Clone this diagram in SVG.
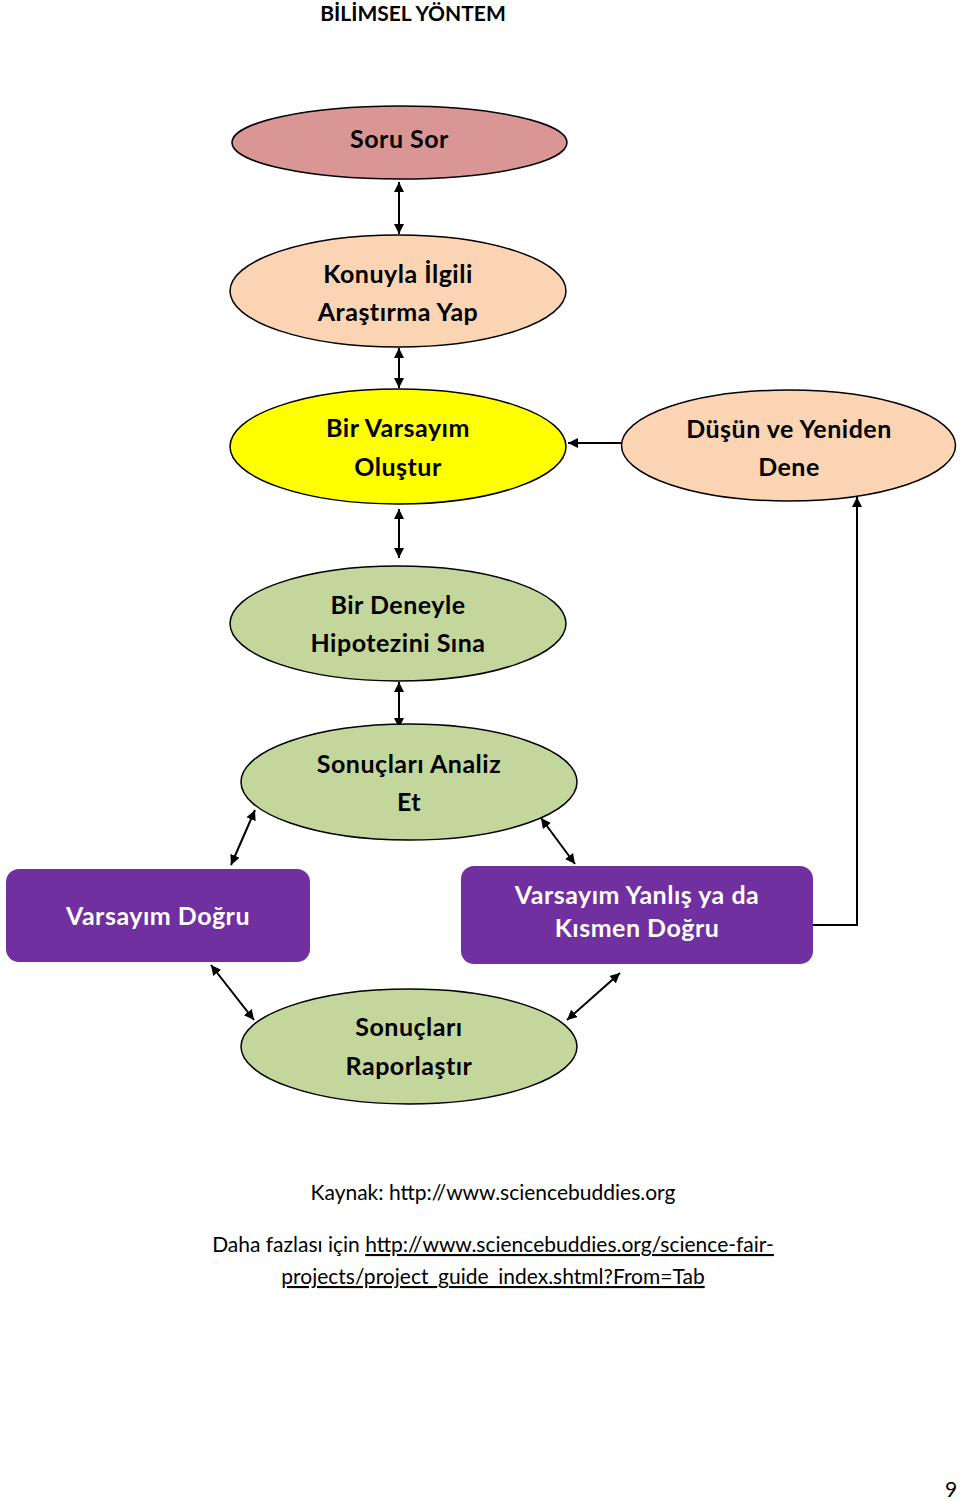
<svg xmlns="http://www.w3.org/2000/svg" width="960" height="1501" viewBox="0 0 960 1501">
<defs>
<marker id="ah" viewBox="0 0 10 10" refX="10" refY="5" markerWidth="10" markerHeight="10" markerUnits="userSpaceOnUse" orient="auto-start-reverse">
<path d="M0,0 L10,5 L0,10 z" fill="#000"/>
</marker>
<style>
.e{stroke:#000;stroke-width:1.5}
.t{font-family:Lato,"Open Sans","Liberation Sans",sans-serif;font-weight:bold;font-size:25px;letter-spacing:0.5px;text-anchor:middle;fill:#000}
.w{fill:#fff}
.c{stroke:#000;stroke-width:2;fill:none}
.n{font-family:Lato,"Open Sans","Liberation Sans",sans-serif;font-size:21px;fill:#000}
</style>
</defs>
<rect width="960" height="1501" fill="#fff"/>
<text x="413" y="21" class="t" style="font-size:21px;letter-spacing:0">BİLİMSEL YÖNTEM</text>

<g id="connectors">
<line x1="399" y1="182" x2="399" y2="234" class="c" marker-start="url(#ah)" marker-end="url(#ah)"/>
<line x1="399" y1="348" x2="399" y2="388" class="c" marker-start="url(#ah)" marker-end="url(#ah)"/>
<line x1="621" y1="443" x2="568" y2="443" class="c" marker-end="url(#ah)"/>
<line x1="399" y1="509" x2="399" y2="558" class="c" marker-start="url(#ah)" marker-end="url(#ah)"/>
<line x1="399" y1="682" x2="399" y2="728" class="c" marker-start="url(#ah)" marker-end="url(#ah)"/>
<line x1="255" y1="810" x2="231" y2="865" class="c" marker-start="url(#ah)" marker-end="url(#ah)"/>
<line x1="541" y1="818" x2="575" y2="864" class="c" marker-start="url(#ah)" marker-end="url(#ah)"/>
<polyline points="813,925 857,925 857,497" class="c" marker-end="url(#ah)"/>
<line x1="211" y1="965" x2="254" y2="1020" class="c" marker-start="url(#ah)" marker-end="url(#ah)"/>
<line x1="620" y1="973" x2="567" y2="1020" class="c" marker-start="url(#ah)" marker-end="url(#ah)"/>
</g>

<g id="soru">
<ellipse cx="399.5" cy="142.5" rx="167.5" ry="36.5" fill="#D99694" class="e"/>
<text x="399.5" y="148" class="t">Soru Sor</text>
</g>
<g id="konuyla">
<ellipse cx="398" cy="291" rx="168" ry="56" fill="#FBD4B4" class="e"/>
<text x="398" y="283" class="t">Konuyla İlgili</text>
<text x="398" y="321" class="t">Araştırma Yap</text>
</g>
<g id="varsayim">
<ellipse cx="398" cy="446.5" rx="168" ry="57.5" fill="#FFFF00" class="e"/>
<text x="398" y="437" class="t">Bir Varsayım</text>
<text x="398" y="476" class="t">Oluştur</text>
</g>
<g id="dusun">
<ellipse cx="788.5" cy="445.5" rx="167" ry="55.5" fill="#FBD4B4" class="e"/>
<text x="789" y="438" class="t">Düşün ve Yeniden</text>
<text x="789" y="476" class="t">Dene</text>
</g>
<g id="deney">
<ellipse cx="398" cy="623.5" rx="168" ry="57.5" fill="#C3D69B" class="e"/>
<text x="398" y="614" class="t">Bir Deneyle</text>
<text x="398" y="652" class="t">Hipotezini Sına</text>
</g>
<g id="analiz">
<ellipse cx="409" cy="782" rx="168" ry="58" fill="#C3D69B" class="e"/>
<text x="409" y="773" class="t">Sonuçları Analiz</text>
<text x="409" y="811" class="t">Et</text>
</g>
<g id="dogru">
<rect x="6" y="869" width="304" height="93" rx="13" fill="#7030A0"/>
<text x="158" y="925" class="t w">Varsayım Doğru</text>
</g>
<g id="yanlis">
<rect x="461" y="866" width="352" height="98" rx="13" fill="#7030A0"/>
<text x="637" y="904" class="t w">Varsayım Yanlış ya da</text>
<text x="637" y="937" class="t w">Kısmen Doğru</text>
</g>
<g id="rapor">
<ellipse cx="409" cy="1046.5" rx="168" ry="57.5" fill="#C3D69B" class="e"/>
<text x="409" y="1036" class="t">Sonuçları</text>
<text x="409" y="1075" class="t">Raporlaştır</text>
</g>

<text x="493" y="1200" class="n" text-anchor="middle">Kaynak: http://www.sciencebuddies.org</text>
<text x="493" y="1252" class="n" text-anchor="middle">Daha fazlası için <tspan text-decoration="underline">http://www.sciencebuddies.org/science-fair-</tspan></text>
<text x="493" y="1284" class="n" text-anchor="middle" text-decoration="underline">projects/project_guide_index.shtml?From=Tab</text>
<text x="951" y="1497" class="n" text-anchor="middle">9</text>
</svg>
